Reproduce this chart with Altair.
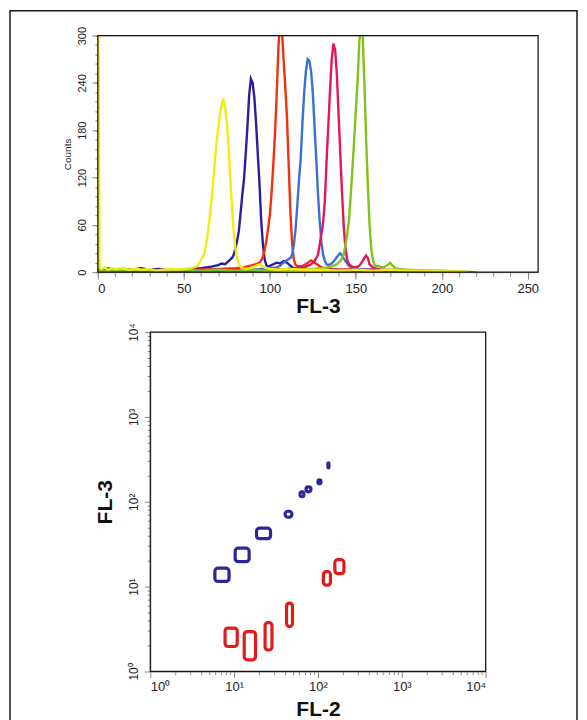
import altair as alt
import pandas as pd

FONT = "Liberation Sans"

# ---------------- Histogram (FL-3 counts) ----------------
navy_x = [0, 5, 10, 15, 20, 25, 30, 35, 40, 45, 50, 55, 60, 63, 66, 68, 70, 72, 74, 76, 78,
          79, 80, 81, 82, 83, 84, 85, 86, 87, 88, 89, 90, 91, 92, 93, 94, 95, 96, 97, 98, 99, 100,
          102, 104, 106, 108, 110, 112, 114, 116, 120, 130, 140, 150, 160, 170, 180, 190, 200, 210]
navy_y = [2, 5, 3, 4, 3, 5, 3, 4, 3, 2, 3, 4, 5, 6, 7, 8, 9, 11, 10, 14, 18,
          22, 30, 40, 52, 75, 98, 118, 150, 185, 225, 245, 240, 222, 190, 150, 112, 65, 35, 16, 9, 7, 8,
          10, 12, 11, 14, 12, 8, 5, 4, 3, 4, 3, 2, 3, 2, 2, 1, 1, 0]

red_x = [0, 10, 20, 30, 40, 50, 60, 70, 80, 85, 88, 90, 92, 94,
         95, 96, 97, 98, 99, 100, 101, 102, 103, 104, 105, 106, 107, 108, 109, 110, 111, 112, 113, 114, 115, 116,
         118, 120, 122, 124, 126, 128, 130, 132, 135, 140, 150, 160, 170, 180, 190, 200]
red_y = [3, 2, 3, 2, 3, 2, 3, 4, 5, 6, 8, 9, 10, 12,
         15, 20, 28, 40, 55, 72, 100, 135, 175, 225, 285, 320, 310, 270, 235, 195, 135, 75, 35, 16, 9, 8,
         7, 9, 12, 15, 12, 9, 6, 4, 3, 3, 4, 3, 2, 2, 1, 1]

blue_x = [0, 10, 20, 30, 40, 50, 60, 70, 80, 90, 95, 100, 104, 106, 108,
          110, 111, 112, 113, 114, 115, 116, 117, 118, 119, 120, 121, 122, 123, 124, 125, 126, 127, 128, 129,
          130, 131, 132, 133, 134, 136, 138, 140, 141, 142, 144, 146, 148, 150, 155, 160, 170, 180, 190, 200]
blue_y = [2, 3, 2, 3, 2, 3, 2, 3, 2, 3, 4, 5, 6, 8, 12,
          15, 17, 18, 22, 35, 55, 85, 118, 145, 190, 228, 255, 270, 268, 255, 228, 185, 145, 100, 65,
          38, 22, 14, 10, 9, 11, 16, 22, 24, 21, 14, 8, 5, 4, 3, 3, 2, 2, 1, 1]

crimson_x = [0, 10, 20, 30, 40, 50, 60, 70, 80, 90, 100, 110, 115, 118, 120, 122, 124, 126,
             127, 128, 129, 130, 131, 132, 133, 134, 135, 136, 137, 138, 139, 140, 141, 142, 143, 144, 145, 146,
             148, 150, 152, 154, 155, 156, 157, 158, 160, 162, 165, 170, 180, 190, 200, 210]
crimson_y = [2, 3, 2, 2, 3, 2, 3, 2, 3, 2, 3, 4, 5, 7, 6, 8, 10, 14,
             18, 22, 35, 48, 63, 90, 140, 185, 230, 270, 290, 282, 250, 200, 150, 100, 58, 30, 16, 10,
             7, 6, 8, 14, 18, 21, 18, 10, 6, 4, 3, 3, 2, 2, 1, 1]

green_x = [0, 10, 20, 30, 40, 50, 60, 70, 80, 90, 100, 110, 120, 125, 130, 134, 137, 139, 141,
           142, 143, 144, 145, 146, 147, 148, 149, 150, 151, 152, 153, 154, 155, 156, 157, 158, 159, 160, 161,
           162, 163, 165, 167, 169, 170, 171, 173, 175, 180, 190, 200, 210, 220]
green_y = [2, 2, 3, 2, 2, 3, 2, 3, 2, 3, 2, 3, 3, 4, 5, 6, 8, 10, 14,
           18, 22, 35, 48, 65, 95, 130, 165, 205, 240, 290, 320, 300, 240, 170, 110, 60, 30, 15, 9,
           7, 8, 6, 7, 10, 12, 9, 5, 4, 3, 2, 2, 1, 0]

yellow_x = [0, 1, 2, 4, 6, 8, 10, 14, 18, 22, 26, 30, 34, 38, 42, 46, 50, 53, 56, 58, 59, 60,
            61, 62, 63, 64, 65, 66, 67, 68, 69, 70, 71, 72, 73, 74, 75, 76, 77, 78, 79, 80, 81, 82, 83, 84,
            86, 88, 90, 92, 94, 96, 98, 100, 105, 110, 120, 130, 140, 150, 160, 170, 180, 190, 200, 210, 215]
yellow_y = [420, 6, 4, 6, 3, 5, 4, 5, 3, 4, 3, 4, 2, 3, 4, 3, 4, 5, 6, 8, 12, 15,
            19, 24, 36, 50, 68, 90, 112, 140, 165, 182, 200, 212, 220, 208, 190, 160, 120, 82, 52, 30, 18, 10, 7, 5,
            4, 5, 6, 8, 10, 7, 5, 4, 3, 4, 3, 3, 2, 3, 2, 3, 2, 2, 1, 1, 0]

series_names = ["navy", "red", "blue", "crimson", "green", "yellow"]
series_colors = ["#2b1d9c", "#f2300f", "#3a6fd8", "#e5155c", "#7fc31c", "#f2ec10"]
series_data = [(navy_x, navy_y), (red_x, red_y), (blue_x, blue_y),
               (crimson_x, crimson_y), (green_x, green_y), (yellow_x, yellow_y)]

x_ticks_major = [0, 50, 100, 150, 200, 250]
x_ticks_minor = list(range(0, 257, 10))
y_ticks_major = [0, 60, 120, 180, 240, 300]
y_ticks_minor = list(range(0, 301, 12))

rows = []
for name, (xs, ys) in zip(series_names, series_data):
    assert len(xs) == len(ys), name
    for xv, yv in zip(xs, ys):
        rows.append({"series": name, "fl3": xv, "count": yv})
hist = pd.DataFrame(rows)

# ---------------- Dot-plot contours (FL-2 vs FL-3) ----------------
blob_group = ["blue"] * 8 + ["red"] * 6
blob_fl2_lo = [5.9, 10.3, 18.5, 40.5, 61.1, 72.0, 100.0, 131.5, 7.8, 13.2, 23.4, 42.2, 116.0, 159.0]
blob_fl2_hi = [8.7, 15.1, 27.2, 49.0, 68.1, 82.6, 108.6, 135.0, 10.9, 18.0, 28.3, 49.7, 141.0, 204.0]
blob_fl3_lo = [11.5, 19.7, 36.7, 65.7, 114.5, 131.0, 163.0, 251.0, 1.97, 1.37, 1.79, 3.38, 10.4, 14.2]
blob_fl3_hi = [16.5, 28.4, 48.8, 77.3, 131.0, 150.0, 181.0, 288.0, 3.25, 2.95, 3.77, 6.4, 15.0, 20.8]
blob_colors = ["#2a2899", "#e01b1b"]

log_major = [1, 10, 100, 1000, 10000]
log_minor = [m * d for d in [1, 10, 100, 1000] for m in range(2, 10)]

blobs = pd.DataFrame({
    "group": blob_group,
    "fl2_lo": blob_fl2_lo, "fl2_hi": blob_fl2_hi,
    "fl3_lo": blob_fl3_lo, "fl3_hi": blob_fl3_hi,
})

LABEL_EXPR = "'10' + ['\u2070','\u00b9','\u00b2','\u00b3','\u2074'][round(log(datum.value)/LN10)]"

TOP_W, TOP_H = 441, 237
BOT_W, BOT_H = 336, 340
one_row = pd.DataFrame({"k": [0]})


def border(w, h):
    return alt.Chart(one_row).mark_rect(
        fillOpacity=0, stroke="#111111", strokeWidth=1.2
    ).encode(x=alt.value(0), x2=alt.value(w), y=alt.value(0), y2=alt.value(h))


# ---------------- Top panel ----------------
xs_top = alt.Scale(domain=[0, 256], nice=False, zero=False)
ys_top = alt.Scale(domain=[0, 300], nice=False)

lines = alt.Chart(hist).mark_line(strokeWidth=2.4, clip=True).encode(
    x=alt.X("fl3:Q", scale=xs_top,
            axis=alt.Axis(values=x_ticks_major, orient="bottom", grid=False, tickSize=7,
                          labelFontSize=13, labelPadding=3, labelColor="#222",
                          title="FL-3", titleFontSize=21, titleFontWeight="bold",
                          titlePadding=0, titleColor="#111")),
    y=alt.Y("count:Q", scale=ys_top,
            axis=alt.Axis(values=y_ticks_major, orient="left", grid=False, tickSize=6,
                          labelFontSize=11, labelAngle=270, labelAlign="center",
                          labelBaseline="bottom", labelPadding=4, labelColor="#222",
                          title="Counts", titleFontSize=10, titleFontWeight="normal",
                          titlePadding=4, titleColor="#222")),
    color=alt.Color("series:N", scale=alt.Scale(domain=series_names, range=series_colors),
                    legend=None),
)

minor_top = alt.Chart(hist).mark_line(opacity=0, clip=True).encode(
    x=alt.X("fl3:Q", scale=xs_top,
            axis=alt.Axis(values=x_ticks_minor, orient="bottom", grid=False, tickSize=4,
                          labels=False, domain=False, title=None)),
    y=alt.Y("count:Q", scale=ys_top,
            axis=alt.Axis(values=y_ticks_minor, orient="left", grid=False, tickSize=3,
                          labels=False, domain=False, title=None)),
)

frame = alt.Chart(one_row).mark_rect(
    fillOpacity=0, stroke="#1a1a1a", strokeWidth=1.5
).encode(x=alt.value(-88), x2=alt.value(480), y=alt.value(-25), y2=alt.value(692))

top = alt.layer(frame, minor_top, lines, border(TOP_W, TOP_H)).resolve_axis(
    x="independent", y="independent").properties(width=TOP_W, height=TOP_H)

# ---------------- Bottom panel ----------------
xs_bot = alt.Scale(type="log", domain=[1, 10000], nice=False)
ys_bot = alt.Scale(type="log", domain=[1, 10000], nice=False)

rects = alt.Chart(blobs).mark_rect(
    fillOpacity=0, strokeWidth=3.2, cornerRadius=3
).encode(
    x=alt.X("fl2_lo:Q", scale=xs_bot,
            axis=alt.Axis(values=log_major, orient="bottom", grid=False, tickSize=6,
                          labelExpr=LABEL_EXPR, labelFontSize=13, labelPadding=3,
                          labelColor="#222", title="FL-2", titleFontSize=21,
                          titleFontWeight="bold", titlePadding=5, titleColor="#111")),
    x2="fl2_hi:Q",
    y=alt.Y("fl3_lo:Q", scale=ys_bot,
            axis=alt.Axis(values=log_major, orient="left", grid=False, tickSize=6,
                          labelExpr=LABEL_EXPR, labelFontSize=12, labelAngle=270,
                          labelAlign="center", labelBaseline="bottom", labelPadding=4,
                          labelColor="#222", title="FL-3", titleFontSize=21,
                          titleFontWeight="bold", titlePadding=12, titleColor="#111")),
    y2="fl3_hi:Q",
    stroke=alt.Stroke("group:N", scale=alt.Scale(domain=["blue", "red"], range=blob_colors),
                      legend=None),
)

minor_bot = alt.Chart(blobs).mark_rect(opacity=0, clip=True).encode(
    x=alt.X("fl2_lo:Q", scale=xs_bot,
            axis=alt.Axis(values=log_minor, orient="bottom", grid=False, tickSize=3,
                          labels=False, domain=False, title=None)),
    x2="fl2_hi:Q",
    y=alt.Y("fl3_lo:Q", scale=ys_bot,
            axis=alt.Axis(values=log_minor, orient="left", grid=False, tickSize=3,
                          labels=False, domain=False, title=None)),
    y2="fl3_hi:Q",
)

bottom = alt.layer(minor_bot, rects, border(BOT_W, BOT_H)).resolve_axis(
    x="independent", y="independent").properties(width=BOT_W, height=BOT_H)

chart = alt.vconcat(top, bottom, spacing=60, center=True, bounds="flush",
                    padding={"left": 0, "top": 0, "right": 0, "bottom": 0}).configure_view(
    stroke="#111111", strokeWidth=1.2
).configure_axis(
    labelFont=FONT, titleFont=FONT, domainColor="#1a1a1a", tickColor="#1a1a1a",
    domainWidth=1.2, tickWidth=1
).configure(background="white")

chart.save("out.html", embed_options={"renderer": "svg", "actions": False})
